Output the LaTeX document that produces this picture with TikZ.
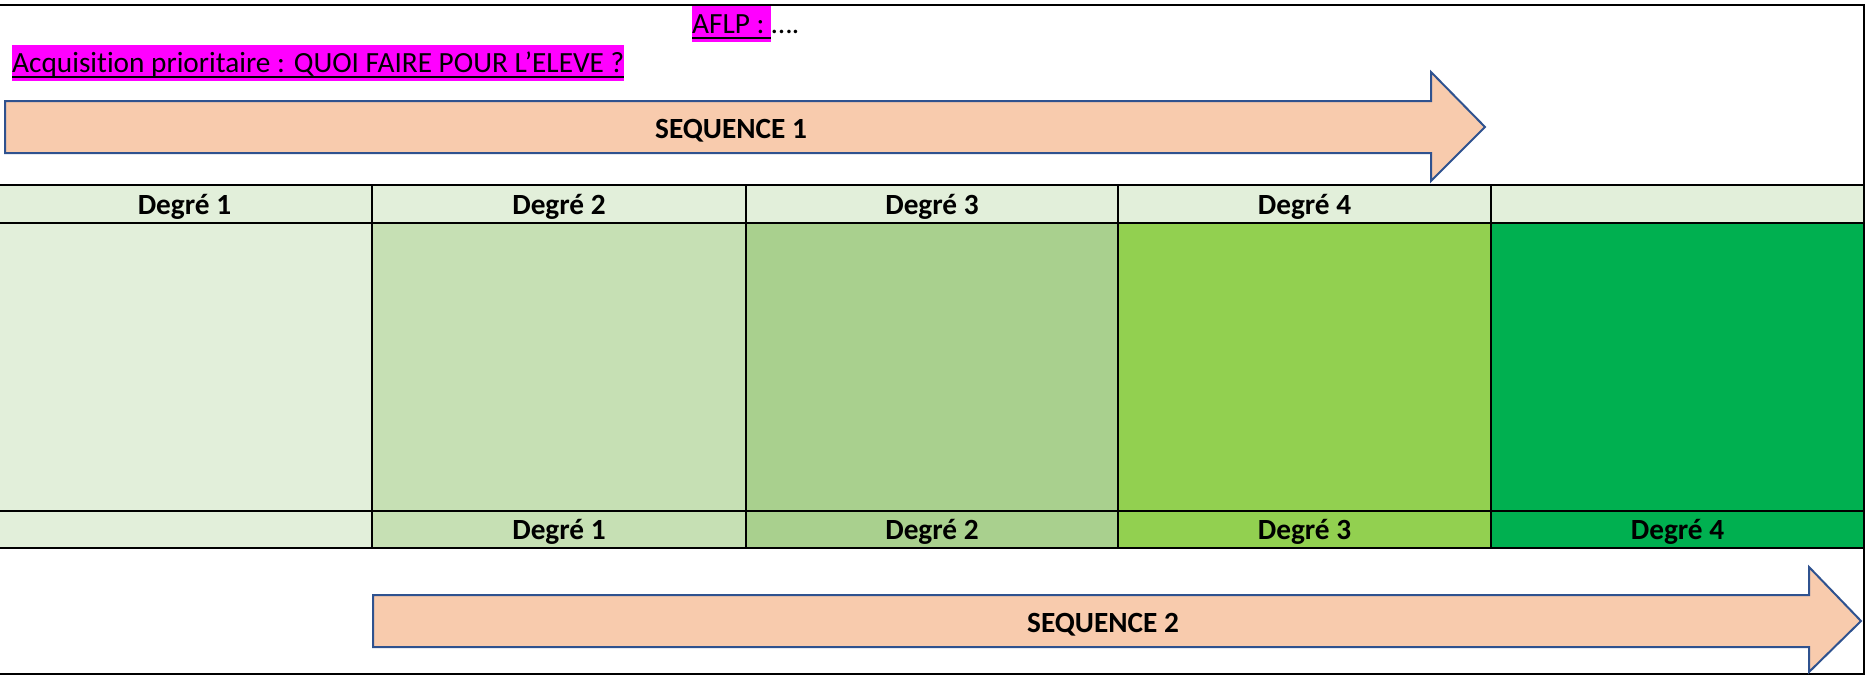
\documentclass[tikz,border=0pt]{standalone}
\usepackage{fontspec}
\setmainfont{Carlito}[Ligatures={NoCommon}]

\definecolor{gA}{HTML}{E2EFDA}
\definecolor{gB}{HTML}{C6E0B4}
\definecolor{gC}{HTML}{A9D08E}
\definecolor{gD}{HTML}{92D050}
\definecolor{gE}{HTML}{00B050}
\definecolor{peach}{HTML}{F8CBAD}
\definecolor{arrowblue}{HTML}{2F528F}
\definecolor{hlmag}{HTML}{FF00FF}

\begin{document}
\begin{tikzpicture}[x=1pt,y=-1pt,
  every node/.style={font=\fontsize{29.3}{35}\selectfont, text=black},
  cell/.style={draw=black, line width=2.8pt, inner sep=0pt,
    text height=20pt, text depth=0pt,
    font=\fontsize{29.3}{35}\selectfont\bfseries},
  hdr/.style={cell, minimum height=38pt},
  body/.style={cell, minimum height=288pt},
  foot/.style={cell, minimum height=37pt},
  seqarrow/.style={fill=peach, draw=arrowblue, line width=2pt, line join=miter},
  seqlabel/.style={anchor=base, inner sep=0pt, font=\fontsize{29.3}{35}\selectfont\bfseries},
  hl/.style={fill=hlmag, inner sep=0pt, text height=27.6pt, text depth=8pt, anchor=base west},
  ulstyle/.style={draw=black, line width=2pt}
]
\useasboundingbox (0,0) rectangle (1865,675);

% outer frame
\draw[line width=1.8pt] (0,5) -- (1864,5) -- (1864,674) -- (0,674);

% title lines
\node[hl] (aflp) at (692,33.6) {AFLP :\kern0.226em};
\node[anchor=base west, inner sep=0pt] (dots) at (aflp.base east) {….};
\draw[ulstyle] ([yshift=-4pt]aflp.base west) -- ([yshift=-4pt]aflp.base east);

\node[hl] (acq) at (12,72.6) {Acquisition prioritaire : QUOI FAIRE POUR L’ELEVE ?};
\draw[ulstyle] ([yshift=-4pt]acq.base west) -- ([yshift=-4pt]acq.base east);

% first sequence arrow
\draw[seqarrow] (5,101) -- (1431,101) -- (1431,72) -- (1485,127) -- (1431,181)
  -- (1431,153) -- (5,153) -- cycle;
\node[seqlabel] (seq1) at (731,138) {SEQUENCE 1};

% header row
\node[hdr, fill=gA, minimum width=375pt] (h1) at (184.5,204) {Degré 1};
\node[hdr, fill=gA, minimum width=374pt] (h2) at (559,204) {Degré 2};
\node[hdr, fill=gA, minimum width=372pt] (h3) at (932,204) {Degré 3};
\node[hdr, fill=gA, minimum width=373pt] (h4) at (1304.5,204) {Degré 4};
\node[hdr, fill=gA, minimum width=373pt] (h5) at (1677.5,204) {};

% coloured body row
\node[body, fill=gA, minimum width=375pt] (b1) at (184.5,367) {};
\node[body, fill=gB, minimum width=374pt] (b2) at (559,367) {};
\node[body, fill=gC, minimum width=372pt] (b3) at (932,367) {};
\node[body, fill=gD, minimum width=373pt] (b4) at (1304.5,367) {};
\node[body, fill=gE, minimum width=373pt] (b5) at (1677.5,367) {};

% footer row
\node[foot, fill=gA, minimum width=375pt] (f1) at (184.5,529.5) {};
\node[foot, fill=gB, minimum width=374pt] (f2) at (559,529.5) {Degré 1};
\node[foot, fill=gC, minimum width=372pt] (f3) at (932,529.5) {Degré 2};
\node[foot, fill=gD, minimum width=373pt] (f4) at (1304.5,529.5) {Degré 3};
\node[foot, fill=gE, minimum width=373pt] (f5) at (1677.5,529.5) {Degré 4};

% second sequence arrow
\draw[seqarrow] (373,595) -- (1809,595) -- (1809,567) -- (1861,621) -- (1809,672)
  -- (1809,647) -- (373,647) -- cycle;
\node[seqlabel] (seq2) at (1103,632) {SEQUENCE 2};
\end{tikzpicture}
\end{document}
